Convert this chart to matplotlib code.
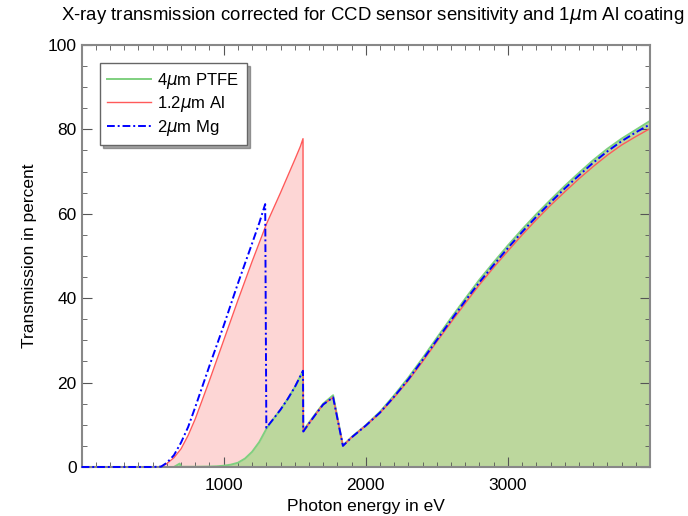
import matplotlib
matplotlib.use("Agg")
import matplotlib.pyplot as plt
from matplotlib.ticker import MultipleLocator

plt.rcParams['font.family'] = ['Liberation Sans', 'DejaVu Sans']

# ---- data ----
tail_E = [1839, 1900, 2000, 2100, 2200, 2300, 2400, 2500, 2600, 2700, 2800, 2900,
          3000, 3100, 3200, 3300, 3400, 3500, 3600, 3700, 3800, 3900, 3990]

# 1.2um Al
al_E = [0, 500, 560, 600, 650, 700, 750, 800, 900, 1000, 1100, 1200, 1300, 1400, 1500,
        1540, 1558, 1560, 1600, 1650, 1700, 1770] + tail_E
al_T = [0, 0, 0.1, 0.8, 2.2, 4.3, 7.5, 11.4, 20.5, 30.0, 39.5, 48.7, 57.5, 65.0, 72.8,
        76.0, 77.8, 8.4, 10.3, 12.6, 14.8, 16.5,
        5.0, 7.0, 9.8, 12.8, 16.5, 20.5, 25.0, 29.7, 34.3, 38.8, 43.2, 47.3,
        51.2, 55.0, 58.6, 62.0, 65.2, 68.3, 71.2, 73.9, 76.3, 78.3, 80.0]

# 2um Mg
mg_E = [0, 500, 560, 600, 650, 700, 750, 800, 900, 1000, 1100, 1200, 1250, 1292,
        1300, 1350, 1400, 1450, 1500, 1558, 1560, 1600, 1650, 1700, 1770] + tail_E
mg_T = [0, 0, 0.1, 1.0, 2.8, 5.8, 9.5, 14.2, 24.0, 33.5, 43.5, 53.0, 57.8, 62.3,
        9.3, 11.4, 13.6, 16.1, 18.9, 22.8, 8.4, 10.3, 12.6, 14.8, 16.5,
        5.0, 7.0, 9.8, 12.9, 16.7, 20.8, 25.4, 30.1, 34.8, 39.4, 43.8, 47.9,
        51.9, 55.7, 59.3, 62.7, 66.0, 69.1, 72.1, 74.8, 77.2, 79.3, 81.0]

# 4um PTFE
ptfe_E = [0, 600, 650, 690, 700, 800, 900, 950, 1000, 1050, 1100, 1150, 1200, 1250, 1300,
          1350, 1400, 1450, 1500, 1558, 1560, 1600, 1650, 1700, 1770] + tail_E
ptfe_T = [0, 0, 0, 0.8, 0.05, 0.05, 0.1, 0.15, 0.3, 0.55, 1.0, 2.0, 3.6, 5.9, 9.0,
          11.4, 13.6, 16.1, 18.9, 22.8, 8.6, 10.5, 12.8, 15.0, 17.0,
          5.1, 7.1, 9.9, 13.1, 17.0, 21.2, 25.8, 30.6, 35.3, 39.9, 44.4, 48.5,
          52.5, 56.3, 59.9, 63.3, 66.6, 69.7, 72.7, 75.4, 77.8, 79.9, 81.8]

labels = ['4$\\mu$m PTFE', '1.2$\\mu$m Al', '2$\\mu$m Mg']
title = 'X-ray transmission corrected for CCD sensor sensitivity and 1$\\mu$m Al coating'

# ---- figure ----
fig = plt.figure(figsize=(6.88, 5.16), dpi=100)
ax = fig.add_axes([0.1186, 0.095, 0.8262, 0.8178])

ax.fill_between(al_E, al_T, 0, color='#fdd6d5', linewidth=0)
ax.fill_between(ptfe_E, ptfe_T, 0, color='#bcd79d', linewidth=0)

l1, = ax.plot(ptfe_E, ptfe_T, color='#7fd07f', lw=1.4, label=labels[0])
l2, = ax.plot(al_E, al_T, color='#ff5a5a', lw=1.0, label=labels[1])
l3, = ax.plot(mg_E, mg_T, color='#0000ff', lw=1.4, linestyle=(0, (4, 1.5, 1, 1.5)),
              label=labels[2], clip_on=False, zorder=4)

ax.set_xlim(0, 4000)
ax.set_ylim(0, 100)
ax.set_xticks([1000, 2000, 3000])
ax.set_yticks([0, 20, 40, 60, 80, 100])
ax.xaxis.set_minor_locator(MultipleLocator(100))
ax.yaxis.set_minor_locator(MultipleLocator(5))
ax.tick_params(which='both', direction='in', top=True, right=True, color='#555555',
               labelsize=12.5, labelcolor='black')
ax.tick_params(which='major', length=7)
ax.tick_params(which='minor', length=3.5)
ax.tick_params(axis='x', pad=8)
for s in ax.spines.values():
    s.set_color('#888888')
    s.set_linewidth(1.5)

ax.set_xlabel('Photon energy in eV', fontsize=12.5, labelpad=4)
ax.set_ylabel('Transmission in percent', fontsize=12.5, labelpad=8)
fig.text(0.542, 0.970, title, ha='center', va='center', fontsize=13.4)

leg = ax.legend(handles=[l1, l2, l3], loc='upper left', bbox_to_anchor=(0.032, 0.957),
                borderaxespad=0, fontsize=12, frameon=True, fancybox=False, shadow=True,
                handlelength=2.6, borderpad=0.45, labelspacing=0.22, handletextpad=0.4)
leg.get_frame().set_edgecolor('#666666')
leg.get_frame().set_linewidth(1.0)

fig.savefig('out.png', dpi=100)
